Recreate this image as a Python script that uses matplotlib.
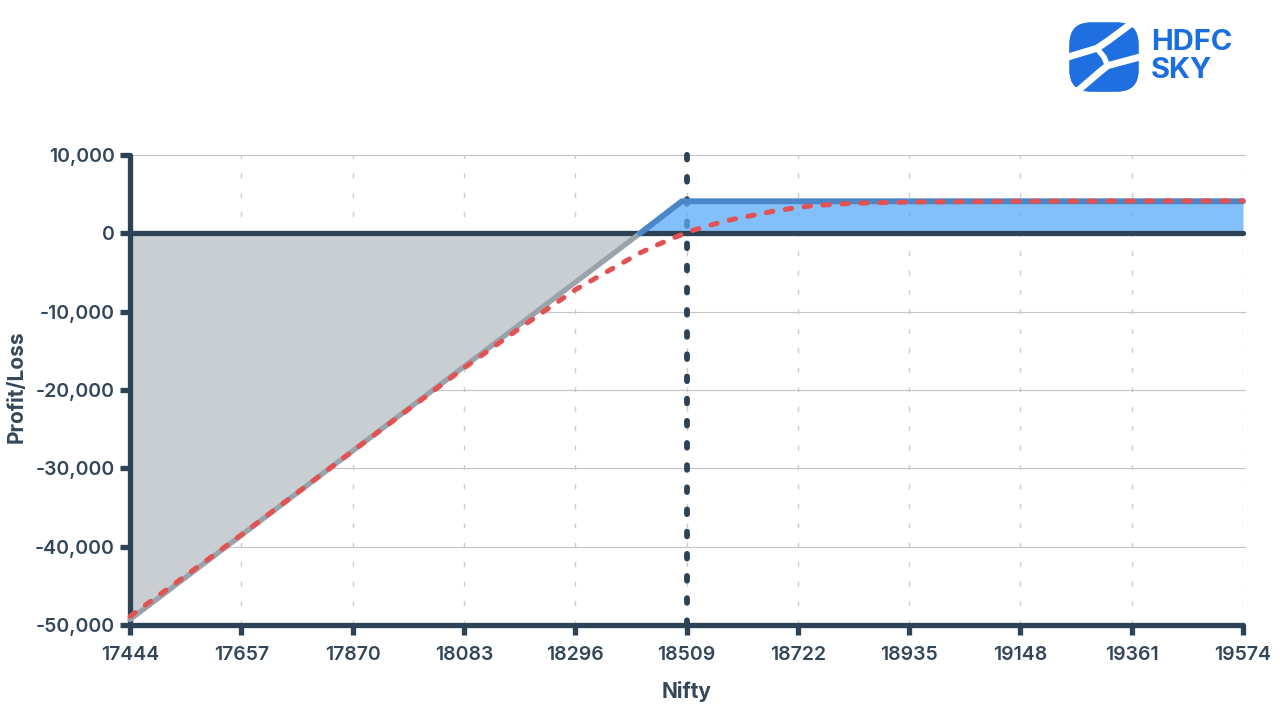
import numpy as np
import matplotlib
matplotlib.use("Agg")
import matplotlib.pyplot as plt
from matplotlib.patches import FancyBboxPatch

# data
x_ticks = [17444, 17657, 17870, 18083, 18296, 18509, 18722, 18935, 19148, 19361, 19574]
y_ticks = [10000, 0, -10000, -20000, -30000, -40000, -50000]

# expiry payoff (breakeven at 18420)
payoff_x = [17444, 18420, 18500, 19574]
payoff_y = [-49300, 0, 4100, 4100]

# T+0 curve (red dashed)
t0_x = [17444, 17657, 17870, 18083, 18190, 18296, 18383, 18420, 18452, 18487,
        18521, 18560, 18598, 18636, 18673, 18711, 18751, 18830, 18935, 19148, 19361, 19574]
t0_y = [-48900, -38500, -27800, -17200, -12100, -7200, -3900, -2500, -1500, -500,
        380, 1150, 1800, 2300, 2800, 3200, 3550, 3850, 4000, 4100, 4130, 4150]

spot = 18509

dark = "#2e4257"
plt.rcParams['font.family'] = ['Inter', 'DejaVu Sans']

fig = plt.figure(figsize=(12.8, 7.2), dpi=100)
ax = fig.add_axes([130 / 1280, 1 - 625 / 720, (1243 - 130) / 1280, (625 - 148) / 720])

ax.set_xlim(x_ticks[0], x_ticks[-1])
ax.set_ylim(-50000, 10900)

# grid
for yv in y_ticks[:-1]:
    if yv == 0:
        continue
    ax.plot([x_ticks[0], x_ticks[-1] + 4], [yv, yv], color="#c4c4c4", lw=0.8, zorder=1, clip_on=False)
for xv in x_ticks[1:]:
    ax.plot([xv, xv], [-50000, 10000], color="#cacaca", lw=1.0, ls=(0, (3.5, 10.5)), zorder=1)

px = np.array(payoff_x)
py = np.array(payoff_y)

# fills
ax.fill_between(px, py, 0, where=py <= 0, color="#c9ced3", zorder=2, lw=0)
ax.fill_between(px, py, 0, where=py >= 0, color="#5aaaf8", alpha=0.75, zorder=4, lw=0)

# spot line (under blue fill)
ax.plot([spot, spot], [-50000, 10900], color=dark, lw=4.2, ls=(0, (0.8, 3.0)),
        dash_capstyle="round", zorder=3, clip_on=False)

# zero line
ax.plot([x_ticks[0], x_ticks[-1]], [0, 0], color=dark, lw=3.8, solid_capstyle="round",
        zorder=5, clip_on=False)

# payoff line
ax.plot(px[:2], py[:2], color="#9aa2aa", lw=3.8, solid_capstyle="round", zorder=6, clip_on=False)
ax.plot(px[1:], py[1:], color="#4a86c8", lw=4.2, solid_capstyle="round", zorder=6, clip_on=False)

# T+0
ax.plot(t0_x, t0_y, color="#e25252", lw=3.6, ls=(0, (1.3, 2.5)), dash_capstyle="round",
        zorder=7, clip_on=False)

# axes styling
for s in ["top", "right"]:
    ax.spines[s].set_visible(False)
for s in ["left", "bottom"]:
    ax.spines[s].set_color(dark)
    ax.spines[s].set_linewidth(3.8)
    ax.spines[s].set_capstyle("round")
ax.spines["left"].set_bounds(-50000, 10000)
ax.set_xticks(x_ticks)
ax.set_xticklabels([str(v) for v in x_ticks])
ax.set_yticks(y_ticks)
ax.set_yticklabels([f"{v:,}" for v in y_ticks])
ax.tick_params(axis="both", colors=dark, width=3.8, length=7, labelsize=14, pad=4)
for lab in ax.get_xticklabels() + ax.get_yticklabels():
    lab.set_fontweight("semibold")
    lab.set_color("#34475a")
ax.tick_params(axis="x", pad=8)

ax.set_xlabel("Nifty", fontsize=15, fontweight="bold", color="#34475a", labelpad=12)
ax.set_ylabel("Profit/Loss", fontsize=15, fontweight="bold", color="#34475a", labelpad=6)

# logo
lax = fig.add_axes([1068 / 1280, 1 - 93 / 720, 72 / 1280, 72 / 720])
lax.set_xlim(0, 1)
lax.set_ylim(0, 1)
lax.axis("off")
box = FancyBboxPatch((0.02, 0.02), 0.96, 0.96, boxstyle="round,pad=0,rounding_size=0.3",
                     fc="#1f6fe0", ec="none")
lax.add_patch(box)
grad = np.linspace(0, 1, 100).reshape(-1, 1)
im = lax.imshow(grad, extent=[0, 1, 0, 1], cmap=matplotlib.colors.LinearSegmentedColormap.from_list(
    "lg", ["#1450d0", "#3aa0f5"]), origin="lower", aspect="auto")
im.set_clip_path(box)
lax.plot([0.0, 0.40, 0.55, 0.9], [0.50, 0.62, 0.72, 0.98], color="white", lw=5,
         solid_capstyle="butt", solid_joinstyle="round")
lax.plot([0.40, 0.50, 0.55], [0.62, 0.50, 0.38], color="white", lw=4, solid_joinstyle="round")
lax.plot([0.1, 0.45, 0.55, 1.0], [0.0, 0.30, 0.38, 0.50], color="white", lw=5,
         solid_capstyle="butt", solid_joinstyle="round")
fig.text(1151 / 1280, 1 - 43 / 720, "HDFC", fontsize=21, fontweight="bold", color="#1a6fe0",
         va="center", ha="left")
fig.text(1151 / 1280, 1 - 71 / 720, "SKY", fontsize=21, fontweight="bold", color="#1a6fe0",
         va="center", ha="left")

fig.savefig("out.png", dpi=100)
